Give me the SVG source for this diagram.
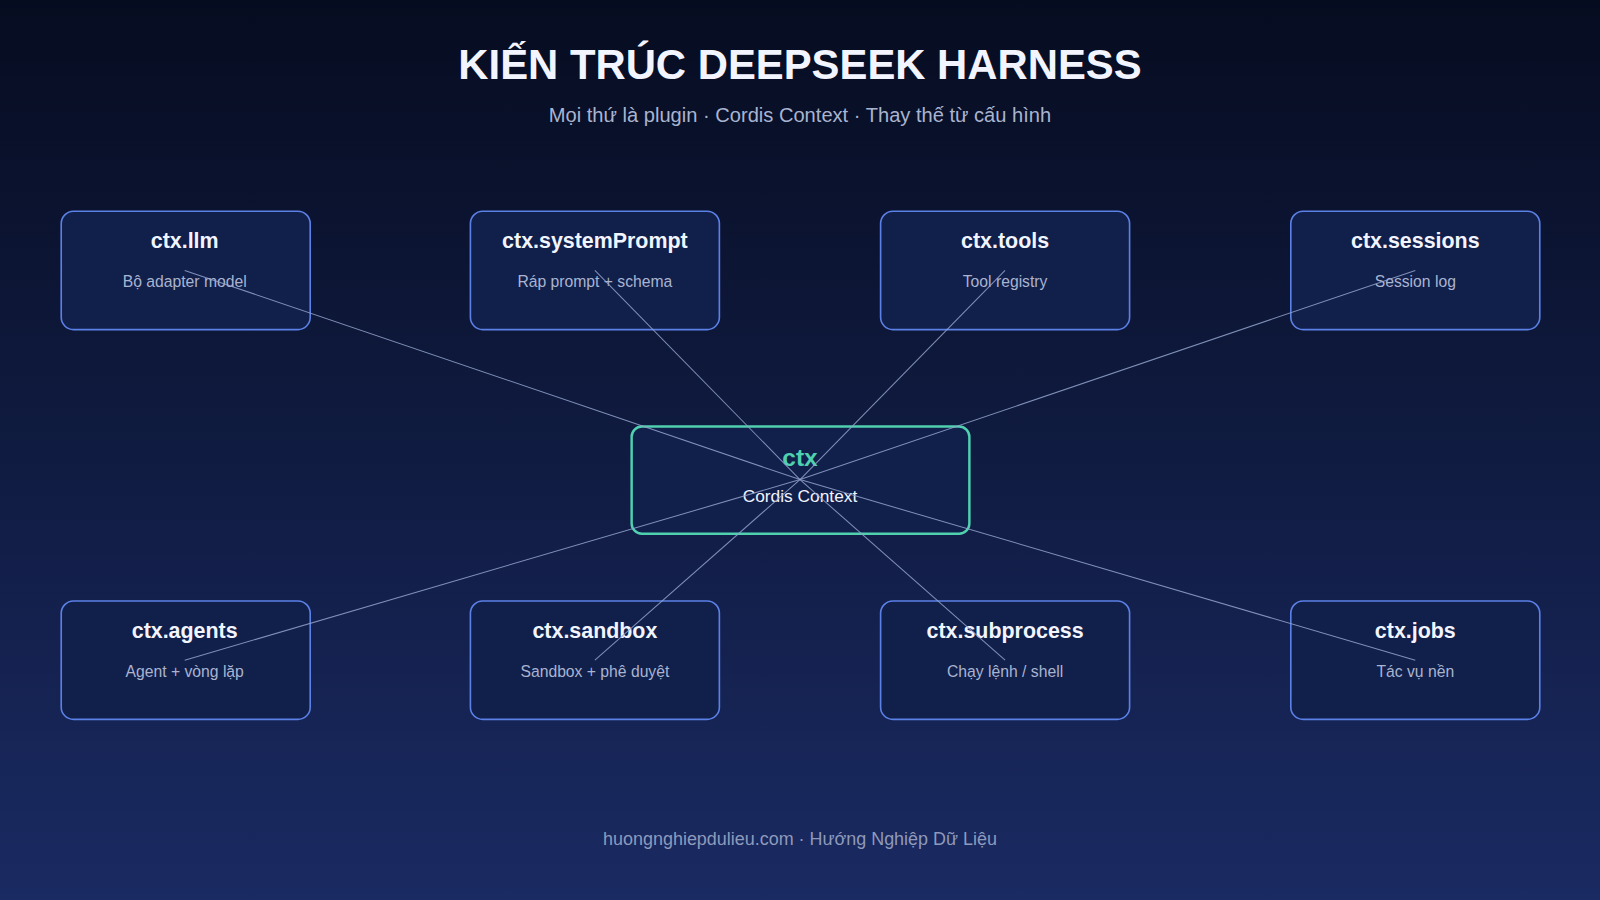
<svg xmlns="http://www.w3.org/2000/svg" width="1600" height="900" viewBox="0 0 1600 900">
<defs>
<linearGradient id="bg" x1="0" y1="0" x2="0" y2="1"><stop offset="0" stop-color="#060c20"/><stop offset="1" stop-color="#1a2a62"/></linearGradient>
<style>
.box{fill:#111f4b;stroke:#5b80e6;stroke-width:1.6}
.t{font-family:"Liberation Sans",Arial,sans-serif;font-weight:bold;font-size:21px;fill:#f2f5ff;text-anchor:middle}
.s{font-family:"Liberation Sans",Arial,sans-serif;font-size:15.4px;fill:#a9b4d0;text-anchor:middle}
.ln{stroke:#93a3cc;stroke-width:1;fill:none;opacity:0.85}
</style>
</defs>
<rect width="1600" height="900" fill="url(#bg)"/>
<g transform="scale(1.0204)">
<text x="784" y="77" font-family="Liberation Sans,Arial,sans-serif" font-weight="bold" font-size="41" fill="#f2f5ff" text-anchor="middle">KIẾN TRÚC DEEPSEEK HARNESS</text>
<text x="784" y="120" font-family="Liberation Sans,Arial,sans-serif" font-size="19.7" fill="#a9b4d0" text-anchor="middle">Mọi thứ là plugin · Cordis Context · Thay thế từ cấu hình</text>
<g id="n-llm"><rect class="box" x="60" y="207" width="244" height="116" rx="12"/><text class="t" x="181" y="243">ctx.llm</text><text class="s" x="181" y="281">Bộ adapter model</text></g>
<g id="n-sys"><rect class="box" x="461" y="207" width="244" height="116" rx="12"/><text class="t" x="583" y="243">ctx.systemPrompt</text><text class="s" x="583" y="281">Ráp prompt + schema</text></g>
<g id="n-tools"><rect class="box" x="863" y="207" width="244" height="116" rx="12"/><text class="t" x="985" y="243">ctx.tools</text><text class="s" x="985" y="281">Tool registry</text></g>
<g id="n-sess"><rect class="box" x="1265" y="207" width="244" height="116" rx="12"/><text class="t" x="1387" y="243">ctx.sessions</text><text class="s" x="1387" y="281">Session log</text></g>
<g id="n-agents"><rect class="box" x="60" y="589" width="244" height="116" rx="12"/><text class="t" x="181" y="625">ctx.agents</text><text class="s" x="181" y="663">Agent + vòng lặp</text></g>
<g id="n-sandbox"><rect class="box" x="461" y="589" width="244" height="116" rx="12"/><text class="t" x="583" y="625">ctx.sandbox</text><text class="s" x="583" y="663">Sandbox + phê duyệt</text></g>
<g id="n-sub"><rect class="box" x="863" y="589" width="244" height="116" rx="12"/><text class="t" x="985" y="625">ctx.subprocess</text><text class="s" x="985" y="663">Chạy lệnh / shell</text></g>
<g id="n-jobs"><rect class="box" x="1265" y="589" width="244" height="116" rx="12"/><text class="t" x="1387" y="625">ctx.jobs</text><text class="s" x="1387" y="663">Tác vụ nền</text></g>
<g id="n-ctx"><rect x="619" y="418" width="331" height="105" rx="10" fill="#111f4b" stroke="#4fd1b0" stroke-width="2.4"/><text x="784" y="457" font-family="Liberation Sans,Arial,sans-serif" font-weight="bold" font-size="24" fill="#4fd1b0" text-anchor="middle">ctx</text><text x="784" y="492" font-family="Liberation Sans,Arial,sans-serif" font-size="17" fill="#f2f5ff" text-anchor="middle">Cordis Context</text></g>
<g id="connectors">
<line class="ln" x1="181" y1="265" x2="784" y2="470"/>
<line class="ln" x1="583" y1="265" x2="784" y2="470"/>
<line class="ln" x1="985" y1="265" x2="784" y2="470"/>
<line class="ln" x1="1387" y1="265" x2="784" y2="470"/>
<line class="ln" x1="181" y1="647" x2="784" y2="470"/>
<line class="ln" x1="583" y1="647" x2="784" y2="470"/>
<line class="ln" x1="985" y1="647" x2="784" y2="470"/>
<line class="ln" x1="1387" y1="647" x2="784" y2="470"/>
</g>
<text x="784" y="828" font-family="Liberation Sans,Arial,sans-serif" font-size="17.6" fill="#8e9abb" text-anchor="middle">huongnghiepdulieu.com · Hướng Nghiệp Dữ Liệu</text>
</g>
</svg>
